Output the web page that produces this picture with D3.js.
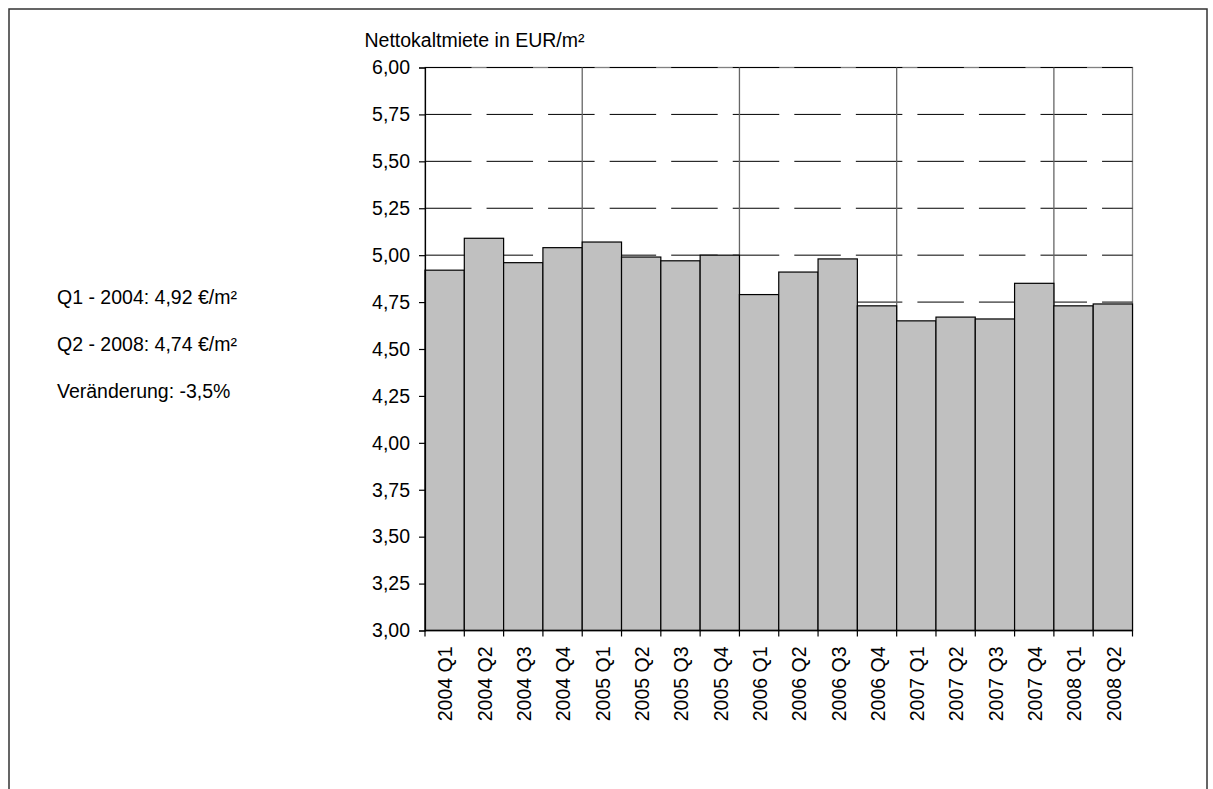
<!DOCTYPE html>
<html>
<head>
<meta charset="utf-8">
<script src="https://cdn.jsdelivr.net/npm/d3@7"></script>
<style>
  html, body { margin: 0; padding: 0; background: #fff; }
  svg { display: block; }
  text { font-family: "Liberation Sans", Arial, sans-serif; fill: #000; }
</style>
</head>
<body>
<svg id="chart" width="1213" height="789"></svg>
<script>
const categories = ["2004 Q1","2004 Q2","2004 Q3","2004 Q4","2005 Q1","2005 Q2","2005 Q3","2005 Q4",
  "2006 Q1","2006 Q2","2006 Q3","2006 Q4","2007 Q1","2007 Q2","2007 Q3","2007 Q4","2008 Q1","2008 Q2"];
const values = [4.92, 5.09, 4.96, 5.04, 5.07, 4.99, 4.97, 5.00, 4.79, 4.91, 4.98, 4.73, 4.65, 4.67, 4.66, 4.85, 4.73, 4.74];
const yTicks = [3.00, 3.25, 3.50, 3.75, 4.00, 4.25, 4.50, 4.75, 5.00, 5.25, 5.50, 5.75, 6.00];
const dashedGrid = [4.75, 5.00, 5.25, 5.50, 5.75, 6.00];
const yearStarts = ["2005 Q1", "2006 Q1", "2007 Q1", "2008 Q1"];
const axisTitle = "Nettokaltmiete in EUR/m²";
const notes = ["Q1 - 2004: 4,92 €/m²", "Q2 - 2008: 4,74 €/m²", "Veränderung: -3,5%"];

(function () {
const svg = d3.select("#chart");
const FS = "19.5px";

// outer frame
svg.append("rect").attr("x", 9).attr("y", 9).attr("width", 1198).attr("height", 800)
  .attr("fill", "none").attr("stroke", "#333").attr("stroke-width", 1.5);

const pL = 425, pR = 1132.5, pT = 67.5, pB = 630.5;
const x = d3.scaleBand().domain(categories).range([pL, pR]).padding(0);
const y = d3.scaleLinear().domain([3, 6]).range([pB, pT]);

// plot border (grey)
svg.append("rect").attr("x", pL).attr("y", pT).attr("width", pR - pL).attr("height", pB - pT)
  .attr("fill", "none").attr("stroke", "#808080").attr("stroke-width", 1.3);

// dashed horizontal gridlines
svg.append("g").selectAll("line").data(dashedGrid).join("line")
  .attr("x1", pL).attr("x2", pR)
  .attr("y1", d => y(d)).attr("y2", d => y(d))
  .attr("stroke", "#000").attr("stroke-width", 1)
  .attr("stroke-dasharray", "46.5,15.05");

// vertical gridlines at year starts
svg.append("g").selectAll("line").data(yearStarts).join("line")
  .attr("x1", d => x(d)).attr("x2", d => x(d))
  .attr("y1", pT).attr("y2", pB)
  .attr("stroke", "#666").attr("stroke-width", 1.3);

// bars
svg.append("g").selectAll("rect").data(values).join("rect")
  .attr("x", (d, i) => x(categories[i]))
  .attr("width", x.bandwidth())
  .attr("y", d => y(d))
  .attr("height", d => y(3) - y(d))
  .attr("fill", "#c0c0c0")
  .attr("stroke", "#000").attr("stroke-width", 1.2);

// y axis
const yAxis = d3.axisLeft(y).tickValues(yTicks).tickSize(6).tickPadding(9)
  .tickFormat(d => d3.format(".2f")(d).replace(".", ","));
const gy = svg.append("g").attr("transform", `translate(${pL},0)`).call(yAxis);
gy.select(".domain").attr("stroke", "#000").attr("stroke-width", 1.2);
gy.selectAll(".tick line").attr("stroke", "#000").attr("stroke-width", 1.2);
gy.selectAll(".tick text").style("font-size", FS).attr("font-family", "Liberation Sans, Arial, sans-serif");

// x axis
const gx = svg.append("g");
gx.append("line").attr("x1", pL).attr("x2", pR).attr("y1", y(3)).attr("y2", y(3))
  .attr("stroke", "#000").attr("stroke-width", 1.3);
const boundaries = categories.map(c => x(c)).concat([x(categories[categories.length - 1]) + x.bandwidth()]);
gx.selectAll("line.tk").data(boundaries).join("line").attr("class", "tk")
  .attr("x1", d => d).attr("x2", d => d)
  .attr("y1", y(3)).attr("y2", y(3) + 6)
  .attr("stroke", "#000").attr("stroke-width", 1.2);
gx.selectAll("text").data(categories).join("text")
  .attr("transform", d => `translate(${x(d) + x.bandwidth() / 2 + 1},${y(3) + 16}) rotate(-90)`)
  .attr("text-anchor", "end")
  .attr("dy", "0.35em")
  .style("font-size", FS)
  .text(d => d);

// axis title
svg.append("text").attr("x", 364.5).attr("y", 47).style("font-size", FS).text(axisTitle);

// notes
const noteY = [304, 351, 398];
svg.append("g").selectAll("text").data(notes).join("text")
  .attr("x", 57).attr("y", (d, i) => noteY[i])
  .style("font-size", FS).text(d => d);
})();
</script>
</body>
</html>
